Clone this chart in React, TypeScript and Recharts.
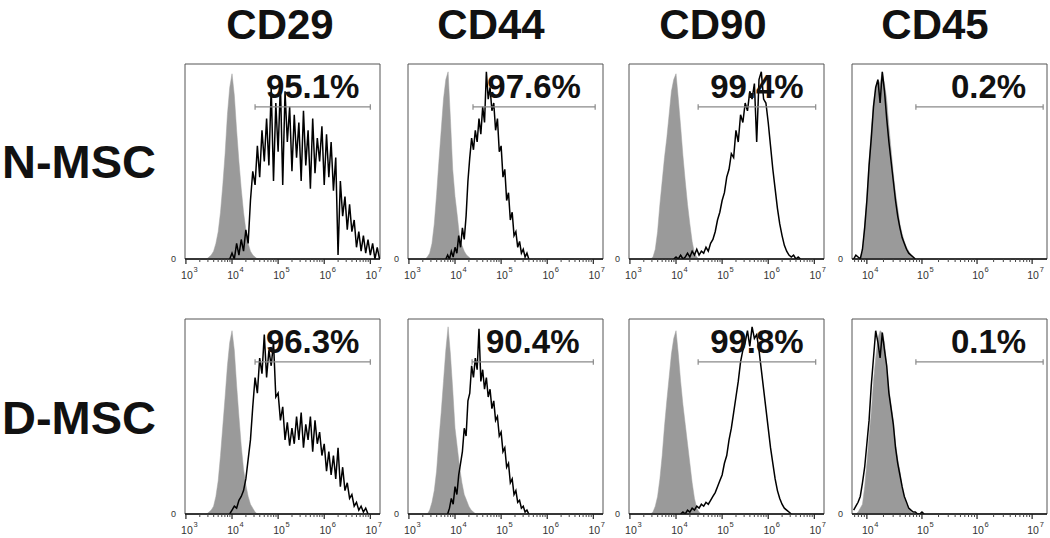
import { ComposedChart, Area, Line, XAxis, YAxis, ReferenceLine, ReferenceArea } from 'recharts'

const markers = ['CD29', 'CD44', 'CD90', 'CD45']
const groups = ['N-MSC', 'D-MSC']
const positives = [
  ['95.1%', '97.6%', '99.4%', '0.2%'],
  ['96.3%', '90.4%', '99.8%', '0.1%'],
]
// marker gate, in log10 of fluorescence
const gateStart = [
  [4.5, 4.39, 4.48, 4.89],
  [4.5, 4.37, 4.48, 4.89],
]
const gateEnd = [
  [7.0, 7.04, 7.03, 7.2],
  [7.0, 7.0, 7.03, 7.2],
]
const decades = [3, 4, 5, 6, 7]
const minorSteps = [2, 3, 4, 5, 6, 7, 8, 9]

// histograms: first bin (log10), bin width, % of max count
const cd29N_iso = { from: 3.45, step: 0.05, y: [0, 1, 2, 4, 8, 14, 24, 38, 54, 74, 88, 95, 84, 66, 50, 36, 24, 15, 8, 4, 2, 1, 0] }
const cd29N_pos = {
  from: 3.95, step: 0.05,
  y: [0, 3, 0, 8, 2, 10, 4, 15, 8, 30, 45, 38, 58, 42, 66, 50, 72, 48, 88, 40, 80, 55, 90, 38, 86, 60, 78, 45, 74, 52,
    70, 40, 76, 48, 66, 36, 72, 44, 62, 50, 68, 38, 64, 42, 60, 35, 52, 2, 40, 22, 32, 15, 28, 14, 20, 6, 14, 4, 12, 3,
    10, 2, 8, 0, 6, 0],
}
const cd29D_iso = { from: 3.45, step: 0.05, y: [0, 1, 2, 4, 9, 17, 30, 45, 60, 76, 88, 94, 84, 66, 50, 35, 23, 15, 9, 5, 3, 1, 0] }
const cd29D_pos = {
  from: 3.95, step: 0.05,
  y: [0, 2, 4, 3, 7, 9, 12, 18, 28, 38, 55, 70, 62, 80, 72, 92, 70, 84, 76, 88, 60, 62, 48, 55, 38, 47, 35, 44, 36, 50,
    38, 52, 34, 46, 38, 50, 32, 48, 36, 42, 30, 36, 22, 32, 20, 30, 18, 34, 14, 24, 12, 16, 8, 10, 4, 6, 2, 4, 1, 3, 0],
}
const cd44N_iso = { from: 3.35, step: 0.05, y: [0, 1, 3, 8, 18, 33, 50, 66, 82, 92, 96, 72, 46, 32, 22, 11, 7, 4, 2, 1, 0] }
const cd44N_pos = {
  from: 3.8, step: 0.04,
  y: [0, 2, 0, 4, 1, 6, 3, 12, 6, 16, 10, 22, 40, 52, 62, 56, 66, 60, 72, 64, 78, 70, 96, 82, 88, 76, 80, 66, 72, 55,
    58, 42, 46, 30, 34, 20, 24, 12, 14, 6, 9, 3, 5, 1, 3, 0],
}
const cd44D_iso = { from: 3.4, step: 0.05, y: [0, 2, 6, 12, 22, 38, 52, 68, 84, 96, 82, 64, 44, 34, 24, 16, 10, 7, 4, 2, 1, 0] }
const cd44D_pos = {
  from: 3.84, step: 0.04,
  y: [0, 3, 8, 5, 14, 10, 20, 26, 32, 44, 40, 58, 62, 76, 70, 80, 74, 95, 68, 74, 64, 70, 60, 64, 54, 58, 48, 50, 40, 42,
    32, 34, 24, 26, 16, 18, 10, 12, 6, 7, 3, 4, 1, 2, 0],
}
const cd90N_iso = { from: 3.45, step: 0.05, y: [0, 1, 5, 14, 28, 40, 52, 62, 74, 86, 92, 95, 82, 68, 53, 40, 28, 18, 9, 3, 1, 0] }
const cd90N_pos = {
  from: 3.95, step: 0.05,
  y: [0, 1, 0, 2, 0, 1, 3, 1, 4, 2, 5, 2, 4, 3, 6, 4, 8, 10, 14, 20, 24, 30, 34, 42, 46, 54, 52, 66, 60, 74,
    70, 80, 76, 86, 82, 90, 60, 92, 96, 82, 80, 70, 58, 46, 36, 26, 18, 12, 7, 4, 2, 1, 2, 0, 1, 0],
}
const cd90D_iso = { from: 3.45, step: 0.05, y: [0, 1, 4, 9, 18, 30, 45, 58, 70, 82, 90, 94, 82, 68, 56, 46, 36, 26, 16, 8, 3, 1, 0] }
const cd90D_pos = {
  from: 4.1, step: 0.05,
  y: [0, 1, 0, 2, 1, 3, 2, 4, 3, 5, 4, 6, 5, 7, 9, 11, 14, 17, 20, 26, 30, 38, 44, 52, 60, 68, 78, 84, 88, 94,
    86, 96, 90, 92, 84, 74, 64, 54, 44, 34, 26, 18, 12, 8, 5, 3, 2, 1, 0],
}
const cd45N_iso = {
  from: 3.84, step: 0.04,
  y: [0, 1, 4, 18, 32, 50, 66, 80, 88, 92, 90, 96, 90, 82, 68, 56, 44, 34, 26, 18, 13, 9, 6, 4, 2, 1, 0],
}
const cd45N_pos = {
  from: 3.76, step: 0.04,
  y: [0, 2, 1, 0, 5, 16, 30, 48, 62, 78, 88, 92, 80, 96, 86, 72, 60, 50, 40, 30, 22, 16, 11, 8, 5, 3, 2, 1, 0],
}
const cd45D_iso = {
  from: 3.8, step: 0.04,
  y: [0, 1, 3, 5, 14, 26, 40, 52, 68, 80, 90, 94, 93, 88, 76, 64, 56, 48, 36, 28, 22, 14, 8, 5, 3, 1, 0],
}
const cd45D_pos = {
  from: 3.76, step: 0.04,
  y: [2, 4, 6, 9, 16, 24, 36, 48, 66, 80, 94, 88, 80, 93, 84, 76, 62, 54, 46, 34, 26, 20, 14, 9, 6, 3, 2, 1, 1, 0, 0, 1, 0],
}

const histograms = [
  [[cd29N_iso, cd29N_pos], [cd44N_iso, cd44N_pos], [cd90N_iso, cd90N_pos], [cd45N_iso, cd45N_pos]],
  [[cd29D_iso, cd29D_pos], [cd44D_iso, cd44D_pos], [cd90D_iso, cd90D_pos], [cd45D_iso, cd45D_pos]],
]

type Hist = { from: number; step: number; y: number[] }

function buildRows(iso: Hist, pos: Hist) {
  const rows = new Map<number, any>()
  const put = (h: Hist, key: string) =>
    h.y.forEach((v, i) => {
      const x = +(h.from + i * h.step).toFixed(3)
      const r = rows.get(x) ?? { x }
      r[key] = v
      rows.set(x, r)
    })
  put(iso, 'iso')
  put(pos, 'pos')
  return [...rows.values()].sort((a, b) => a.x - b.x)
}

const colLeft = [185, 408, 629, 852]
const rowTop = [64, 319]
const FONT = 'Liberation Sans, Arial, Helvetica, sans-serif'

function LogTick(props: any) {
  const { x, y, payload } = props
  const v = payload.value
  const major = Math.abs(v - Math.round(v)) < 1e-6
  if (!major) return <line x1={x} x2={x} y1={y} y2={y + 3} stroke="#444" strokeWidth={1} />
  return (
    <g>
      <line x1={x} x2={x} y1={y} y2={y + 5} stroke="#222" strokeWidth={1.2} />
      <text x={x + 1} y={y + 20} textAnchor="middle" fontSize={10.5} fill="#333" fontFamily={FONT}>10</text>
      <text x={x + 7.5} y={y + 13} fontSize={7.5} fill="#333" fontFamily={FONT}>{Math.round(v)}</text>
    </g>
  )
}

function Panel({ row, col }: { row: number; col: number }) {
  const [iso, pos] = histograms[row][col]
  const data = buildRows(iso, pos)
  const domain: [number, number] = col === 3 ? [3.73, 7.27] : [2.98, 7.21]
  const ticks: number[] = []
  decades.forEach((d) => {
    ticks.push(d)
    minorSteps.forEach((m) => ticks.push(d + Math.log10(m)))
  })
  const shown = ticks.filter((t) => t >= domain[0] && t <= domain[1])
  const g0 = gateStart[row][col]
  const g1 = gateEnd[row][col]
  const gy = 78

  return (
    <div style={{ position: 'absolute', left: colLeft[col] - 15, top: rowTop[row] - 5 }}>
      <ComposedChart width={212} height={228} data={data} margin={{ top: 5, right: 2, left: 0, bottom: 0 }}>
        <XAxis
          type="number"
          dataKey="x"
          domain={domain}
          allowDataOverflow
          ticks={shown}
          interval={0}
          tick={<LogTick />}
          tickLine={false}
          tickSize={0}
          tickMargin={0}
          height={28}
          axisLine={{ stroke: '#111', strokeWidth: 1.6 }}
        />
        <YAxis
          type="number"
          domain={[0, 100]}
          ticks={[0]}
          width={15}
          axisLine={false}
          tickLine={false}
          tickSize={0}
          tickMargin={9}
          tick={{ fontSize: 9, fill: '#333', fontFamily: FONT }}
          allowDataOverflow
        />
        <ReferenceArea x1={domain[0]} x2={domain[1]} y1={0} y2={100} fill="none" stroke="#555" strokeWidth={1} />
        <Area
          dataKey="iso"
          type="linear"
          fill="#9a9a9a"
          fillOpacity={1}
          stroke="#a0a0a0"
          strokeWidth={0.5}
          connectNulls
          isAnimationActive={false}
        />
        <Line
          dataKey="pos"
          type="linear"
          stroke="#000"
          strokeWidth={1.5}
          dot={false}
          connectNulls
          isAnimationActive={false}
        />
        <ReferenceLine
          segment={[{ x: g0, y: gy }, { x: g1, y: gy }]}
          stroke="#8a8a8a"
          strokeWidth={1.2}
          label={{
            value: positives[row][col],
            position: 'top',
            offset: 9,
            dx: col === 3 ? 9 : 0,
            fontSize: 33,
            fontWeight: 'bold',
            fill: '#111',
            fontFamily: FONT,
          }}
        />
        <ReferenceLine segment={[{ x: g0, y: gy - 1.4 }, { x: g0, y: gy + 1.4 }]} stroke="#8a8a8a" strokeWidth={1.2} />
        <ReferenceLine segment={[{ x: g1, y: gy - 1.4 }, { x: g1, y: gy + 1.4 }]} stroke="#8a8a8a" strokeWidth={1.2} />
      </ComposedChart>
    </div>
  )
}

const headerX = [280, 491, 713, 935]
const rowLabelY = [178, 434]

export default function App() {
  return (
    <div style={{ position: 'absolute', left: 0, top: 0, width: 1050, height: 538, background: '#fff', overflow: 'hidden' }}>
      <svg width={1050} height={538} style={{ position: 'absolute', left: 0, top: 0 }}>
        {markers.map((m, i) => (
          <text key={m} x={headerX[i]} y={39} textAnchor="middle" fontSize={42} fontWeight="bold" fontFamily={FONT} fill="#111">
            {m}
          </text>
        ))}
        {groups.map((g, i) => (
          <text key={g} x={2} y={rowLabelY[i]} fontSize={47} fontWeight="bold" fontFamily={FONT} fill="#111">
            {g}
          </text>
        ))}
      </svg>
      {groups.map((_, r) => markers.map((_, c) => <Panel key={`${r}-${c}`} row={r} col={c} />))}
    </div>
  )
}
